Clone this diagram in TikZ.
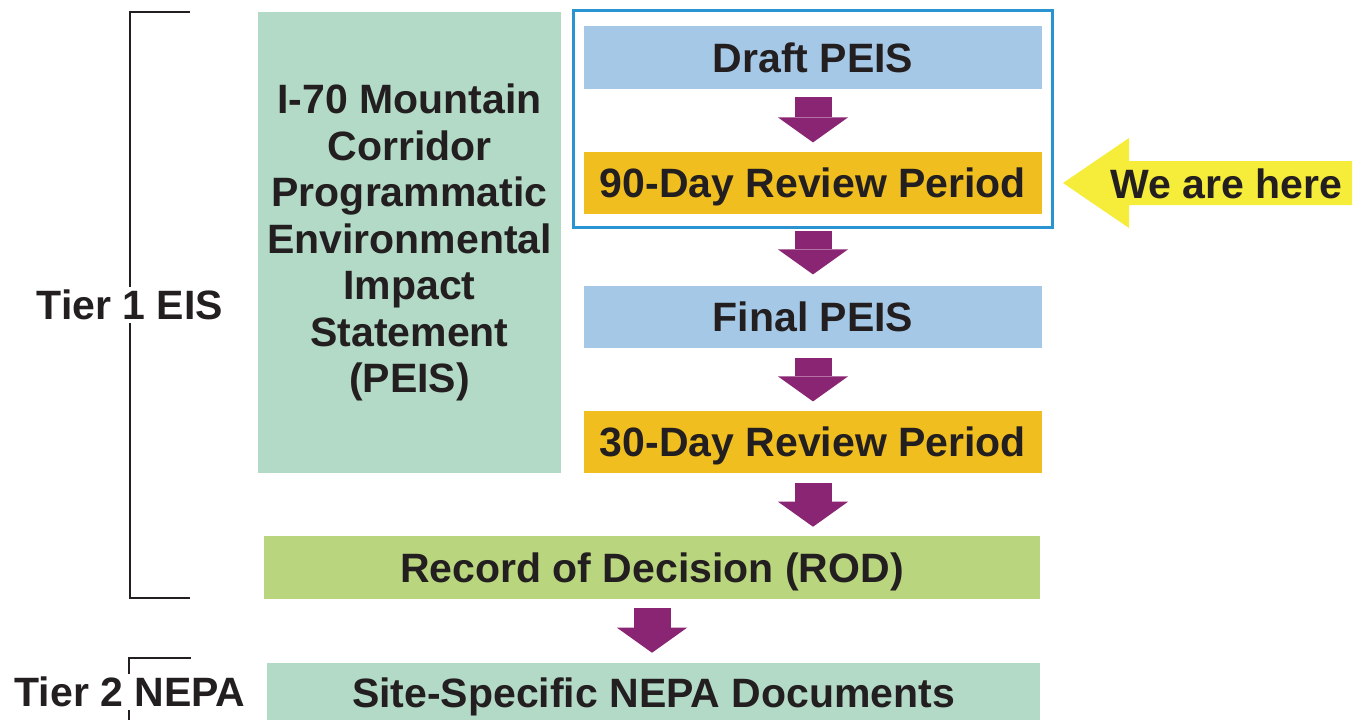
\documentclass[tikz,border=0pt]{standalone}
\usepackage{fontspec}
\setmainfont{Liberation Sans}
\usetikzlibrary{arrows.meta}
\definecolor{inkblack}{HTML}{231F20}
\definecolor{mintgreen}{HTML}{B3DAC7}
\definecolor{skyblue}{HTML}{A4C8E6}
\definecolor{reviewgold}{HTML}{F0BF1F}
\definecolor{limegreen}{HTML}{B9D57D}
\definecolor{frameblue}{HTML}{2A93D2}
\definecolor{flowpurple}{HTML}{8A2573}
\definecolor{hereyellow}{HTML}{F6EC3A}
\begin{document}
\begin{tikzpicture}[x=0.75pt,y=-0.75pt,font=\fontsize{30.75}{34.9}\selectfont\bfseries,
 box/.style={inner sep=0pt,text=inkblack,text height=22pt,text depth=0pt},
 stepbox/.style={box,minimum width=343.5pt,minimum height=47pt},
 flow/.style={draw=flowpurple,line width=27.75pt,-{Triangle[width=52.5pt,length=18.75pt,line width=0pt]}},
 bracket/.style={draw=inkblack,line width=1.5pt},
 tierlabel/.style={fill=white,inner sep=2pt,text=inkblack}]
\useasboundingbox (0,0) rectangle (1364,719);
% brackets
\draw[bracket] (190,12)--(130,12)--(130,598)--(190,598);
\draw[bracket] (191,658)--(129,658)--(129,725);
\node[tierlabel] (tier1) at (130,305) {Tier 1 EIS};
\node[tierlabel] (tier2) at (130,692) {Tier 2 NEPA};
% left box
\node[inner sep=0pt,text=inkblack,align=center,fill=mintgreen,
 minimum width=227.25pt,minimum height=345.75pt] (peis) at (409.5,242.5)
 {I-70 Mountain\\Corridor\\Programmatic\\Environmental\\Impact\\Statement\\(PEIS)};
% steps
\node[stepbox,fill=skyblue] (draft) at (813,57.5) {Draft PEIS};
\node[stepbox,fill=reviewgold] (rev90) at (813,183) {90-Day Review Period};
\node[stepbox,fill=skyblue] (final) at (813,317) {Final PEIS};
\node[stepbox,fill=reviewgold] (rev30) at (813,442) {30-Day Review Period};
\node[box,fill=limegreen,minimum width=582pt,minimum height=47.25pt] (rod) at (652,567.5) {Record of Decision (ROD)};
\node[box,fill=mintgreen,minimum width=579.75pt,minimum height=45pt] (site) at (653.5,693) {Site-Specific NEPA Documents};
\draw[draw=frameblue,line width=2.25pt] (573,10) rectangle (1052,227);
% flow arrows
\draw[flow,shorten <=6pt,shorten >=6.75pt] (draft) -- (rev90);
\draw[flow,shorten <=12pt,shorten >=8.25pt] (rev90) -- (final);
\draw[flow,shorten <=6.75pt,shorten >=6.75pt] (final) -- (rev30);
\draw[flow,shorten <=6.75pt,shorten >=6.75pt] (rev30) -- (rod.north -| rev30);
\draw[flow,shorten <=6.75pt,shorten >=7.5pt] (rod.south) -- (rod.south |- site.north);
% we are here
\fill[hereyellow] (1063,183)--(1129,138)--(1129,161)--(1352,161)--(1352,205)--(1129,205)--(1129,228)--cycle;
\node[box] (here) at (1226,184) {We are here};
\end{tikzpicture}
\end{document}
